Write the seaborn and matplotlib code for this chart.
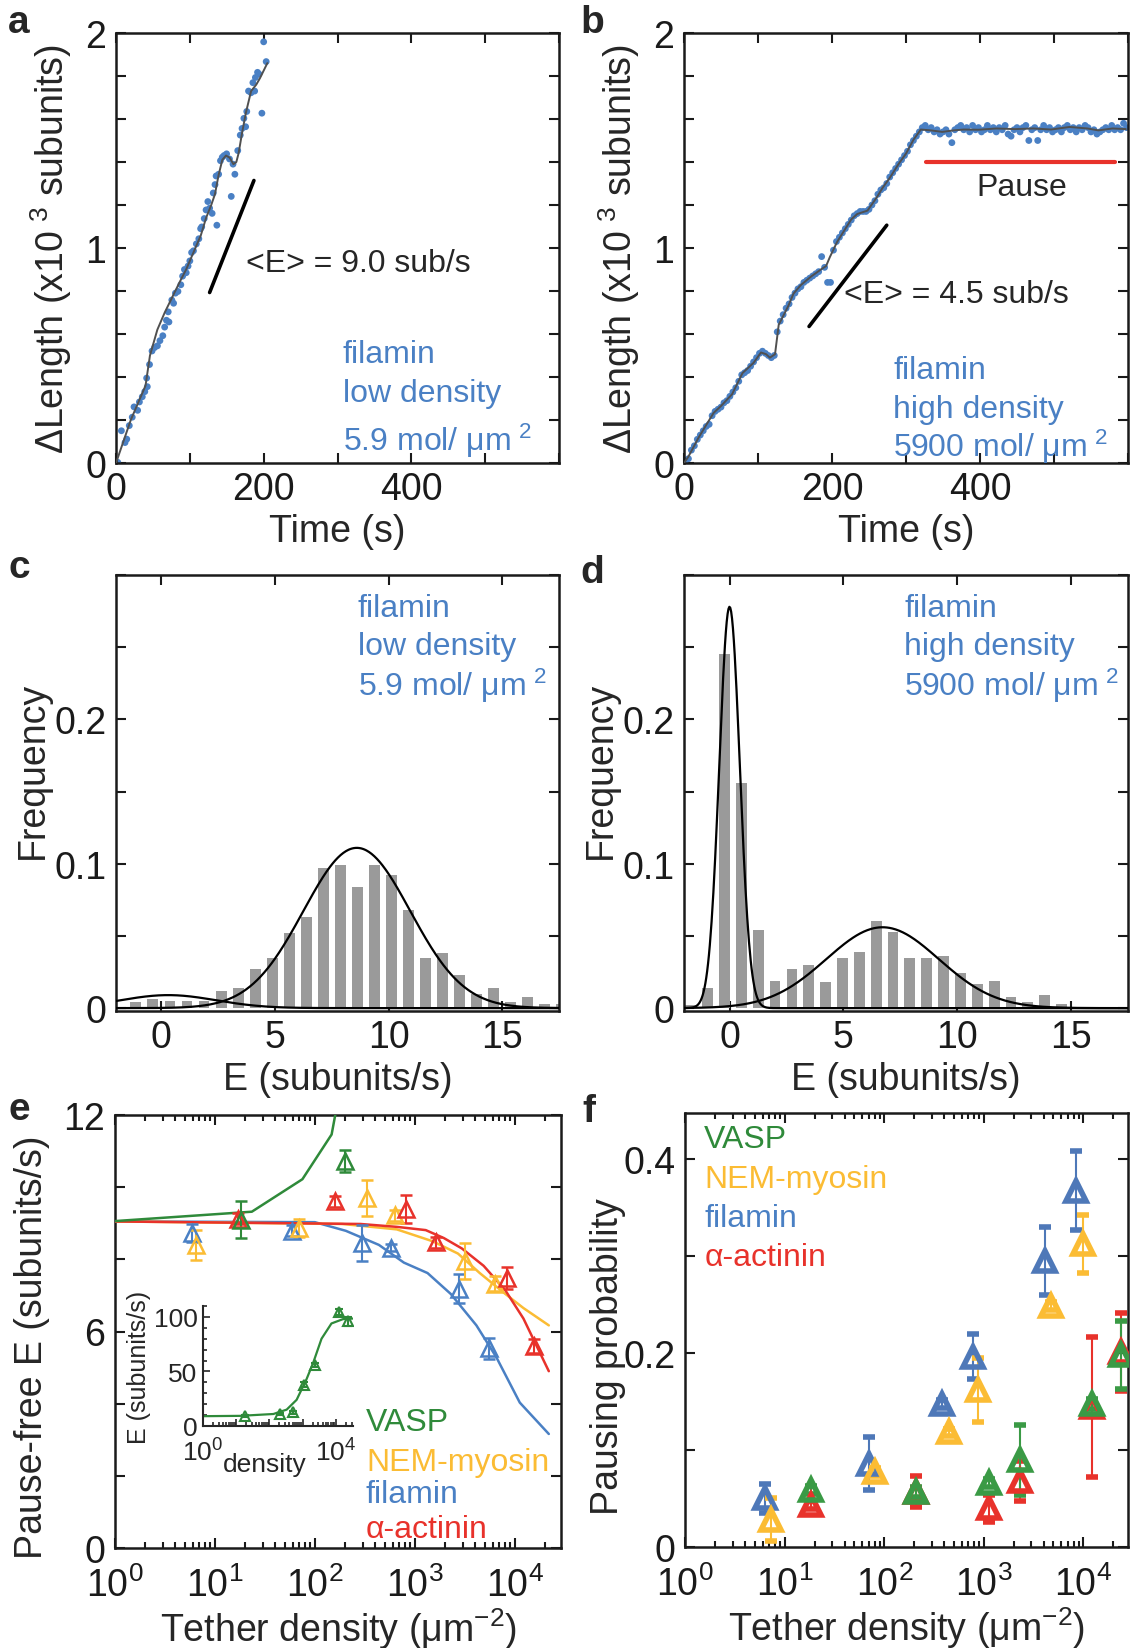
import numpy as np
import matplotlib
matplotlib.use("Agg")
import matplotlib.pyplot as plt
import seaborn as sns
from matplotlib.ticker import LogLocator, NullFormatter

# ---------------- data ----------------
# panel a: filamin, low density
a_time = [2.4, 7.3, 12.2, 14.6, 18.0, 22.0, 24.4, 29.3, 31.7, 35.6, 39.0, 41.5, 42.4, 45.4,
          48.8, 52.2, 56.1, 59.5, 63.4, 65.9, 68.3, 70.7, 71.7, 75.6, 78.0, 80.5, 83.9, 87.8,
          90.2, 92.7, 95.1, 97.6, 100.0, 102.4, 104.9, 108.8, 112.2, 114.6, 116.1, 119.5,
          122.0, 124.4, 126.8, 130.2, 131.7, 134.1, 136.6, 135.6, 139.0, 141.5, 143.9, 146.3,
          149.8, 153.7, 156.1, 161.0, 158.5, 164.9, 168.3, 170.7, 173.2, 175.6, 177.1, 179.5,
          182.9, 185.4, 187.8, 188.8, 191.7, 193.7, 197.6, 200.0, 203.4]
a_len = [0.003, 0.150, 0.095, 0.111, 0.174, 0.213, 0.261, 0.245, 0.284, 0.308, 0.332, 0.395,
         0.355, 0.458, 0.521, 0.537, 0.545, 0.569, 0.592, 0.632, 0.664, 0.703, 0.656, 0.758,
         0.743, 0.790, 0.798, 0.829, 0.869, 0.900, 0.885, 0.916, 0.940, 0.979, 0.987, 1.019,
         1.043, 1.090, 1.098, 1.137, 1.177, 1.216, 1.185, 1.161, 1.256, 1.295, 1.106, 1.335,
         1.343, 1.406, 1.422, 1.430, 1.438, 1.414, 1.240, 1.343, 1.390, 1.453, 1.525, 1.556,
         1.603, 1.564, 1.635, 1.730, 1.722, 1.769, 1.730, 1.793, 1.817, 1.809, 1.627, 1.959,
         1.867]
a_fit_time = [0, 10, 20, 30, 40, 46, 56, 66, 76, 86, 95, 105, 115, 122, 129, 134, 139, 144,
              149, 154, 159, 163, 166, 171, 176, 183, 190, 195, 205]
a_fit_len = [0, 0.10, 0.20, 0.28, 0.36, 0.50, 0.62, 0.70, 0.77, 0.84, 0.90, 0.98, 1.06, 1.14,
             1.20, 1.25, 1.34, 1.41, 1.43, 1.42, 1.39, 1.40, 1.44, 1.54, 1.63, 1.73, 1.76,
             1.79, 1.86]
a_slope_t = [126.8, 186.8]
a_slope_len = [0.793, 1.314]

# panel b: filamin, high density
b_time = list(range(2, 319, 4)) + list(range(322, 599, 4))
b_len = [0.01, 0.02, 0.06, 0.08, 0.11, 0.13, 0.15, 0.17, 0.18, 0.22, 0.24, 0.25, 0.26, 0.28,
         0.29, 0.31, 0.33, 0.35, 0.38, 0.41, 0.42, 0.43, 0.45, 0.47, 0.49, 0.51, 0.52, 0.51,
         0.50, 0.49, 0.50, 0.61, 0.66, 0.69, 0.72, 0.74, 0.77, 0.79, 0.81, 0.82, 0.84, 0.85,
         0.86, 0.87, 0.88, 0.89, 0.96, 0.91, 0.84, 0.84, 0.99, 1.03, 1.05, 1.07, 1.09, 1.11,
         1.13, 1.15, 1.16, 1.17, 1.17, 1.17, 1.18, 1.20, 1.22, 1.25, 1.27, 1.28, 1.30, 1.33,
         1.35, 1.37, 1.39, 1.41, 1.43, 1.45, 1.48, 1.50, 1.52, 1.54,
         1.56, 1.57, 1.55, 1.56, 1.54, 1.55, 1.53, 1.54, 1.55, 1.53, 1.49, 1.55, 1.56, 1.57,
         1.55, 1.56, 1.54, 1.57, 1.55, 1.56, 1.54, 1.55, 1.57, 1.55, 1.56, 1.54, 1.56, 1.55,
         1.57, 1.53, 1.52, 1.55, 1.56, 1.54, 1.56, 1.57, 1.50, 1.55, 1.56, 1.50, 1.55, 1.57,
         1.55, 1.56, 1.54, 1.55, 1.56, 1.54, 1.56, 1.57, 1.55, 1.56, 1.54, 1.56, 1.55, 1.57,
         1.56, 1.54, 1.55, 1.53, 1.54, 1.55, 1.56, 1.55, 1.57, 1.55, 1.56, 1.55, 1.58, 1.56]
b_fit_time = [0, 6, 20, 40, 50, 65, 79, 94, 104, 111, 116, 123, 128, 141, 148, 158, 172, 185,
              192, 197, 207, 226, 234, 248, 261, 268, 278, 290, 300, 310, 320, 334, 349, 364,
              378, 398, 422, 447, 472, 496, 521, 545, 560, 579, 597]
b_fit_len = [0, 0.03, 0.12, 0.233, 0.265, 0.32, 0.418, 0.466, 0.514, 0.506, 0.49, 0.506, 0.643,
             0.731, 0.788, 0.828, 0.868, 0.90, 0.916, 0.957, 1.029, 1.133, 1.158, 1.174, 1.238,
             1.278, 1.326, 1.391, 1.439, 1.503, 1.551, 1.547, 1.54, 1.547, 1.551, 1.55, 1.556,
             1.553, 1.556, 1.551, 1.563, 1.556, 1.547, 1.556, 1.553]
b_slope_t = [169, 274]
b_slope_len = [0.635, 1.106]
b_pause_t = [327, 582]
b_pause_len = [1.40, 1.40]

# panel c: histogram, low density
c_centers = [-1.875, -1.125, -0.375, 0.375, 1.125, 1.875, 2.625, 3.375, 4.125, 4.875, 5.625,
             6.375, 7.125, 7.875, 8.625, 9.375, 10.125, 10.875, 11.625, 12.375, 13.125,
             13.875, 14.625, 15.375, 16.125, 16.875, 17.625]
c_freq = [0.001, 0.004, 0.006, 0.005, 0.005, 0.005, 0.012, 0.014, 0.027, 0.035, 0.052, 0.063,
          0.097, 0.099, 0.084, 0.099, 0.092, 0.068, 0.035, 0.038, 0.023, 0.010, 0.014, 0.004,
          0.008, 0.003, 0.003]
c_fit_amp = [0.009, 0.111]
c_fit_mean = [0.3, 8.6]
c_fit_sd = [2.1, 2.35]

# panel d: histogram, high density
d_centers = [-1.7, -0.96, -0.22, 0.52, 1.26, 2.0, 2.74, 3.48, 4.22, 4.96, 5.70, 6.44, 7.18,
             7.92, 8.66, 9.40, 10.14, 10.88, 11.62, 12.36, 13.10, 13.84, 14.58]
d_freq = [0.002, 0.014, 0.245, 0.156, 0.054, 0.019, 0.027, 0.030, 0.018, 0.035, 0.039, 0.060,
          0.053, 0.035, 0.035, 0.036, 0.024, 0.017, 0.019, 0.008, 0.004, 0.009, 0.003]
d_fit_amp = [0.278, 0.056]
d_fit_mean = [0.0, 6.72]
d_fit_sd = [0.45, 2.47]

# panel e: pause-free elongation vs tether density
e_fil_x = [5.9, 58.6, 293, 581, 2790, 5530]
e_fil_y = [8.74, 8.79, 8.45, 8.32, 7.18, 5.53]
e_fil_err = [0.25, 0.15, 0.5, 0.1, 0.4, 0.3]
e_nem_x = [6.53, 69.3, 332, 632, 3210, 6270]
e_nem_y = [8.40, 8.88, 9.71, 9.22, 7.96, 7.33]
e_nem_err = [0.42, 0.25, 0.5, 0.15, 0.5, 0.2]
e_act_x = [17.1, 160, 812, 1622, 8400, 15700]
e_act_y = [9.13, 9.61, 9.39, 8.47, 7.48, 5.60]
e_act_err = [0.15, 0.15, 0.38, 0.15, 0.3, 0.2]
e_vasp_x = [18.2, 201]
e_vasp_y = [9.10, 10.73]
e_vasp_err = [0.52, 0.3]

e_vasp_fit_x = [1, 23.4, 75, 147, 170]
e_vasp_fit_y = [9.06, 9.32, 10.22, 11.46, 12.4]
e_fil_fit_x = [1, 100, 204, 437, 776, 1340, 2290, 4130, 6530, 11220, 21900]
e_fil_fit_y = [9.05, 9.03, 8.79, 8.40, 7.91, 7.62, 7.04, 6.17, 5.29, 4.03, 3.16]
e_nem_fit_x = [1, 188, 660, 1510, 2700, 4460, 8050, 12200, 21900]
e_nem_fit_y = [9.05, 8.98, 8.83, 8.50, 8.16, 7.62, 7.04, 6.65, 6.17]
e_act_fit_x = [1, 286, 660, 1285, 1950, 2960, 4880, 8050, 12200, 21900]
e_act_fit_y = [9.05, 8.98, 8.90, 8.81, 8.59, 8.30, 7.82, 7.14, 6.36, 4.90]

# inset of e: VASP over the full range
ins_x = [18.6, 209, 525, 1114, 2285, 12140, 24000]
ins_y = [9.1, 10.7, 12.4, 38, 55.7, 104.6, 96]
ins_err = [1, 1, 1.5, 2, 2, 3, 4]
ins_fit_x = [1, 13, 132, 331, 661, 1318, 2090, 3720, 7410, 16600, 33000]
ins_fit_y = [9, 9.3, 11, 15, 24, 43, 58, 80, 94, 98, 98.5]

# panel f: pausing probability
f_fil_x = [6.33, 69.6, 379, 784, 4100, 8340]
f_fil_y = [0.050, 0.086, 0.147, 0.196, 0.295, 0.367]
f_fil_err = [0.015, 0.027, 0.004, 0.023, 0.035, 0.041]
f_nem_x = [7.3, 80.9, 445, 867, 4720, 9840]
f_nem_y = [0.028, 0.077, 0.118, 0.162, 0.248, 0.312]
f_nem_err = [0.022, 0.004, 0.004, 0.033, 0.004, 0.03]
f_act_x = [18.6, 209, 1114, 2285, 12140, 24000]
f_act_y = [0.043, 0.057, 0.040, 0.068, 0.144, 0.201]
f_act_err = [0.004, 0.016, 0.014, 0.021, 0.072, 0.04]
f_vasp_x = [18.6, 209, 1114, 2285, 12140, 24000]
f_vasp_y = [0.059, 0.057, 0.066, 0.090, 0.147, 0.198]
f_vasp_err = [0.004, 0.005, 0.004, 0.036, 0.005, 0.035]

# ---------------- style ----------------
BLUE = "#4a80c4"
GREEN = "#2f8a3a"
YELLOW = "#fbbc34"
RED = "#e8322b"
GRAY = "#9a9a9a"
FS = 27
FS_TXT = 23

sns.set_style("ticks")
plt.rcParams["font.family"] = ["Liberation Sans", "DejaVu Sans"]
plt.rcParams["mathtext.default"] = "regular"
plt.rcParams["axes.linewidth"] = 1.8

fig = plt.figure(figsize=(11.3, 16.49), dpi=100)
W, H = 1130, 1649


def add_ax(left, top, right, bottom):
    return fig.add_axes([left / W, 1 - bottom / H, (right - left) / W, (bottom - top) / H])


def style(ax, xpad=6):
    ax.tick_params(which="both", direction="in", top=True, right=True, width=1.5,
                   labelsize=FS, colors="#1a1a1a")
    ax.tick_params(which="major", length=7)
    ax.tick_params(which="minor", length=4)
    ax.tick_params(axis="x", pad=xpad)
    ax.tick_params(axis="y", pad=7)
    for s in ax.spines.values():
        s.set_visible(True)
        s.set_linewidth(1.8)
        s.set_color("#1a1a1a")


def label_ticks(vals, shown, fmt):
    return [fmt(v) if any(abs(v - s) < 1e-9 for s in shown) else "" for v in vals]


def gauss(x, amp, mu, sd):
    return amp * np.exp(-(x - mu) ** 2 / (2 * sd ** 2))


# ---------------- panel a ----------------
ax = add_ax(116, 34, 559, 464)
sns.scatterplot(x=a_time, y=a_len, ax=ax, s=24, color=BLUE, edgecolor="none", linewidth=0, zorder=2)
sns.lineplot(x=a_fit_time, y=a_fit_len, ax=ax, color="#505050", lw=1.4, estimator=None, sort=False, zorder=3)
ax.plot(a_slope_t, a_slope_len, color="k", lw=2.6)
ax.text(176, 0.93, "<E> = 9.0 sub/s", fontsize=FS_TXT, va="center", ha="left")
for txt, yy in zip(["filamin", "low density", r"5.9 mol/ μm$^{\ 2}$"], [0.505, 0.324, 0.11]):
    ax.text(307, yy, txt, color=BLUE, fontsize=FS_TXT, va="center", ha="left")
ax.set_xlim(0, 600)
ax.set_ylim(0, 2)
xt = np.arange(0, 601, 100)
ax.set_xticks(xt, label_ticks(xt, [0, 200, 400], lambda v: f"{v:.0f}"))
yt = np.round(np.arange(0, 2.01, 0.2), 2)
ax.set_yticks(yt, label_ticks(yt, [0, 1, 2], lambda v: f"{v:.0f}"))
style(ax)
ax.set_xlabel("Time (s)", fontsize=FS, labelpad=4)
ax.set_ylabel(r"ΔLength (x10$^{\ 3}$ subunits)", fontsize=FS, labelpad=8)

# ---------------- panel b ----------------
ax = add_ax(684, 34, 1128, 464)
sns.scatterplot(x=b_time, y=b_len, ax=ax, s=24, color=BLUE, edgecolor="none", linewidth=0, zorder=2)
sns.lineplot(x=b_fit_time, y=b_fit_len, ax=ax, color="#505050", lw=1.4, estimator=None, sort=False, zorder=3)
ax.plot(b_slope_t, b_slope_len, color="k", lw=2.6)
ax.plot(b_pause_t, b_pause_len, color=RED, lw=3)
ax.text(457, 1.286, "Pause", fontsize=FS_TXT, va="center", ha="center")
ax.text(216, 0.788, "<E> = 4.5 sub/s", fontsize=FS_TXT, va="center", ha="left")
for txt, yy in zip(["filamin", "high density", r"5900 mol/ μm$^{\ 2}$"], [0.434, 0.249, 0.08]):
    ax.text(283, yy, txt, color=BLUE, fontsize=FS_TXT, va="center", ha="left")
ax.set_xlim(0, 600)
ax.set_ylim(0, 2)
ax.set_xticks(xt, label_ticks(xt, [0, 200, 400], lambda v: f"{v:.0f}"))
ax.set_yticks(yt, label_ticks(yt, [0, 1, 2], lambda v: f"{v:.0f}"))
style(ax)
ax.set_xlabel("Time (s)", fontsize=FS, labelpad=4)
ax.set_ylabel(r"ΔLength (x10$^{\ 3}$ subunits)", fontsize=FS, labelpad=8)

# ---------------- panels c and d ----------------
xs = np.linspace(-2, 17.5, 500)
ft = np.round(np.arange(0, 0.301, 0.05), 2)


def hist_panel(ax, centers, freq, amps, means, sds, lines, tx):
    sns.barplot(x=centers, y=freq, ax=ax, native_scale=True, width=0.64, color=GRAY,
                saturation=1, linewidth=0, errorbar=None, zorder=1)
    for amp, mu, sd in zip(amps, means, sds):
        sns.lineplot(x=xs, y=gauss(xs, amp, mu, sd), ax=ax, color="k", lw=1.6, zorder=3)
    for txt, yy in zip(lines, [0.277, 0.2505, 0.224]):
        ax.text(tx, yy, txt, color=BLUE, fontsize=FS_TXT, va="center", ha="left")
    ax.set_xlim(-2, 17.5)
    ax.set_ylim(-0.002, 0.3)
    ax.set_xticks([0, 5, 10, 15], ["0", "5", "10", "15"])
    ax.set_yticks(ft, label_ticks(ft, [0, 0.1, 0.2], lambda v: "0" if v == 0 else f"{v:.1f}"))
    style(ax)
    ax.set_xlabel("E (subunits/s)", fontsize=FS, labelpad=4)
    ax.set_ylabel("Frequency", fontsize=FS, labelpad=2)
    ax.yaxis.label.set_y(0.554)


ax = add_ax(116, 576, 559, 1012)
hist_panel(ax, c_centers, c_freq, c_fit_amp, c_fit_mean, c_fit_sd,
           ["filamin", "low density", r"5.9 mol/ μm$^{\ 2}$"], 8.65)
ax = add_ax(684, 576, 1128, 1012)
hist_panel(ax, d_centers, d_freq, d_fit_amp, d_fit_mean, d_fit_sd,
           ["filamin", "high density", r"5900 mol/ μm$^{\ 2}$"], 7.68)

# ---------------- panel e ----------------
def log_axis(ax, xmax):
    ax.set_xscale("log")
    ax.set_xlim(1, xmax)
    ax.xaxis.set_major_locator(LogLocator(base=10, numticks=10))
    ax.xaxis.set_minor_locator(LogLocator(base=10, subs=np.arange(2, 10), numticks=20))
    ax.xaxis.set_minor_formatter(NullFormatter())


def err_series(ax, x, y, err, color, ms=12, mew=1.8, cap=4):
    ax.errorbar(x, y, yerr=err, fmt="^", mfc="none", mec=color, ecolor=color, ms=ms,
                mew=mew, elinewidth=1.5, capsize=cap, capthick=1.5, zorder=4, clip_on=True)


ax = add_ax(115, 1116, 561, 1549)
log_axis(ax, 2.9e4)
for fx, fy, col in [(e_fil_fit_x, e_fil_fit_y, BLUE), (e_nem_fit_x, e_nem_fit_y, YELLOW),
                    (e_act_fit_x, e_act_fit_y, RED), (e_vasp_fit_x, e_vasp_fit_y, GREEN)]:
    sns.lineplot(x=fx, y=fy, ax=ax, color=col, lw=1.8, estimator=None, sort=False, zorder=3)
err_series(ax, e_fil_x, e_fil_y, e_fil_err, BLUE)
err_series(ax, e_nem_x, e_nem_y, e_nem_err, YELLOW)
err_series(ax, e_act_x, e_act_y, e_act_err, RED)
err_series(ax, e_vasp_x, e_vasp_y, e_vasp_err, GREEN)
for txt, yy, col in zip(["VASP", "NEM-myosin", "filamin", "α-actinin"], [3.5, 2.38, 1.5, 0.53],
                        [GREEN, YELLOW, BLUE, RED]):
    ax.text(324, yy, txt, color=col, fontsize=FS_TXT, va="center", ha="left")
ax.set_ylim(0, 12)
et = np.arange(0, 13, 2)
ax.set_yticks(et, label_ticks(et, [0, 6, 12], lambda v: f"{v:.0f}"))
style(ax, xpad=13)
ax.set_xlabel(r"Tether density (μm$^{-2}$)", fontsize=FS, labelpad=1)
ax.set_ylabel("Pause-free E (subunits/s)", fontsize=FS, labelpad=10)
ax.yaxis.label.set_y(0.465)

# inset
axi = add_ax(203, 1307, 353, 1427)
log_axis(axi, 3.3e4)
sns.lineplot(x=ins_fit_x, y=ins_fit_y, ax=axi, color=GREEN, lw=1.6, estimator=None, sort=False)
err_series(axi, ins_x, ins_y, ins_err, GREEN, ms=7, mew=1.5, cap=3)
axi.set_ylim(0, 110)
axi.set_yticks([0, 50, 100], ["0", "50", "100"])
axi.set_yticks(np.arange(0, 111, 10), minor=True)
axi.set_xticks([1, 10, 100, 1000, 10000],
               [r"$\mathdefault{10^{0}}$", "", "", "", r"$\mathdefault{10^{4}}$"])
axi.patch.set_alpha(0)
axi.tick_params(which="both", direction="in", labelsize=19, width=1.2)
axi.tick_params(axis="x", pad=9)
axi.tick_params(axis="y", pad=4)
axi.tick_params(which="major", length=5)
axi.tick_params(which="minor", length=3)
axi.spines["top"].set_visible(False)
axi.spines["right"].set_visible(False)
for s in ["left", "bottom"]:
    axi.spines[s].set_linewidth(1.5)
axi.text(0.41, -0.32, "density", transform=axi.transAxes, fontsize=19, ha="center", va="center")
axi.set_ylabel("E (subunits/s)", fontsize=18, labelpad=2)

# ---------------- panel f ----------------
ax = add_ax(685, 1114, 1128, 1548)
log_axis(ax, 2.8e4)
err_series(ax, f_fil_x, f_fil_y, f_fil_err, "#4e78b8", ms=14, mew=4)
err_series(ax, f_nem_x, f_nem_y, f_nem_err, YELLOW, ms=14, mew=4)
err_series(ax, f_act_x, f_act_y, f_act_err, RED, ms=14, mew=4)
err_series(ax, f_vasp_x, f_vasp_y, f_vasp_err, "#3a9a45", ms=14, mew=4)
for txt, yy, col in zip(["VASP", "NEM-myosin", "filamin", "α-actinin"],
                        [0.42, 0.379, 0.339, 0.299], [GREEN, YELLOW, BLUE, RED]):
    ax.text(1.56, yy, txt, color=col, fontsize=FS_TXT, va="center", ha="left")
ax.set_ylim(0, 0.447)
pt = np.round(np.arange(0, 0.41, 0.1), 2)
ax.set_yticks(pt, label_ticks(pt, [0, 0.2, 0.4], lambda v: "0" if v == 0 else f"{v:.1f}"))
style(ax, xpad=13)
ax.set_xlabel(r"Tether density (μm$^{-2}$)", fontsize=FS, labelpad=1)
ax.set_ylabel("Pausing probability", fontsize=FS, labelpad=-2)
ax.yaxis.label.set_y(0.442)

# ---------------- panel letters ----------------
for letter, x, y in [("a", 19, 23), ("b", 592, 23), ("c", 19, 568), ("d", 592, 573),
                     ("e", 19, 1110), ("f", 589, 1112)]:
    fig.text(x / W, 1 - y / H, letter, fontsize=28, fontweight="bold", ha="center", va="center")

fig.savefig("out.png", dpi=100)
